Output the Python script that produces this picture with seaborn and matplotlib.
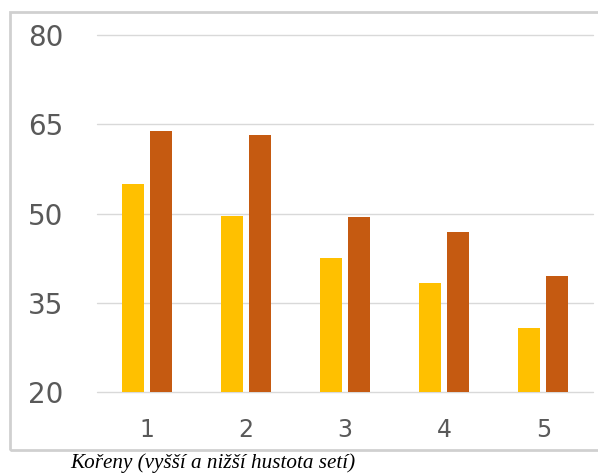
import pandas as pd
import seaborn as sns
import matplotlib.pyplot as plt
from matplotlib.patches import Rectangle

categories = ["1", "2", "3", "4", "5"]
higher = [55.0, 49.5, 42.6, 38.3, 30.7]
lower = [63.9, 63.2, 49.4, 46.9, 39.5]
yticks = [20, 35, 50, 65, 80]

df = pd.DataFrame({
    "cat": categories * 2,
    "value": higher + lower,
    "series": ["a"] * 5 + ["b"] * 5,
})

sns.set_style("white")
plt.rcParams["font.family"] = ["DejaVu Sans"]

fig = plt.figure(figsize=(5.98, 4.73), dpi=100)
ax = fig.add_axes([97 / 598, 1 - 392 / 473, (593 - 97) / 598, (392 - 35) / 473])

sns.barplot(data=df, x="cat", y="value", hue="series", ax=ax,
            palette=["#FFC000", "#C55A11"], saturation=1, width=0.565, gap=0.214,
            linewidth=0, legend=False, zorder=3)

ax.set_ylim(20, 80)
ax.set_xlim(-0.5, 4.5)
ax.set_yticks(yticks)
ax.yaxis.grid(True, color="#D9D9D9", linewidth=1)
for gl in ax.get_ygridlines():
    gl.set_clip_on(False)
ax.set_axisbelow(True)
for s in ax.spines.values():
    s.set_visible(False)
ax.set_xlabel("")
ax.set_ylabel("")
ax.tick_params(axis="y", length=0, pad=24, labelsize=20, labelcolor="#595959")
ax.tick_params(axis="x", length=0, pad=19, labelsize=17, labelcolor="#595959")

# chart frame
fig.patches.append(Rectangle((10 / 598, 1 - 450 / 473), 1.0, (450 - 12) / 473,
                             transform=fig.transFigure, fill=False,
                             edgecolor="#D0D0D0", linewidth=2))

fig.text(70 / 598, 5 / 473, "Kořeny (vyšší a nižší hustota setí)",
         family="Liberation Serif", style="italic", fontsize=15.2,
         va="baseline", ha="left", color="black")

fig.savefig("out.png", dpi=100)
